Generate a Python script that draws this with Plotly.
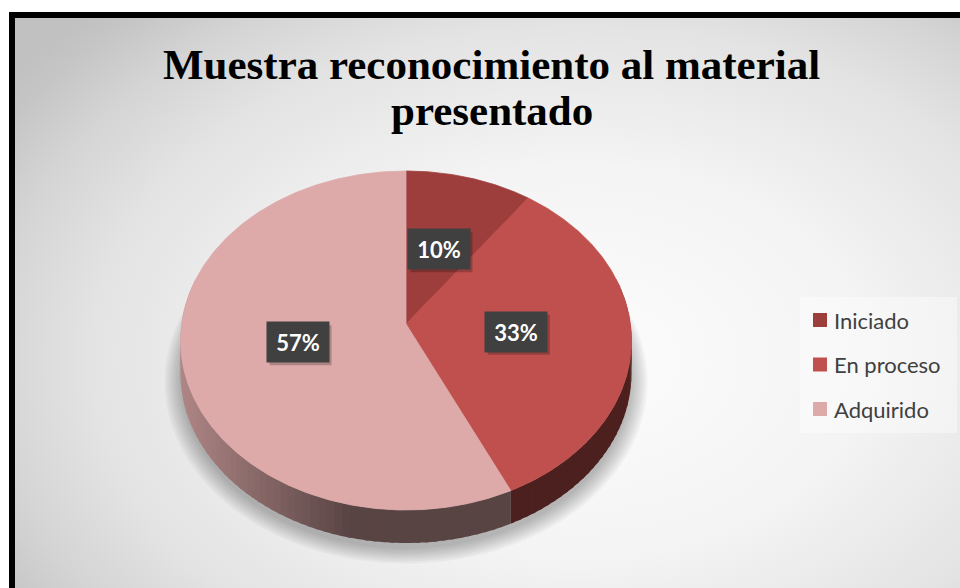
import numpy as np
import plotly.graph_objects as go

# ---------------- data ----------------
categories = ["Iniciado", "En proceso", "Adquirido"]
values = [10, 33, 57]
title_lines = ["Muestra reconocimiento al material", "presentado"]

# ---------------- style ----------------
SLICE_COLORS = ["#9e3e3c", "#c0504d", "#ddaaa9"]
W, H = 960, 588
CX, CY = 406.0, 324.0        # pie centre (pixels)
B, A, K = 224.4, 167.9, 0.0974  # perspective ellipse parameters
DEPTH = 33.0
LABEL_R = 0.49


def proj(phi_deg, f=1.0, dy=0.0):
    phi = np.radians(phi_deg)
    u = f * np.sin(phi)
    v = f * np.cos(phi)
    den = 1 + K * v
    return CX + B * u / den, CY - A * v / den + dy


def hex2rgb(h):
    h = h.lstrip("#")
    return tuple(int(h[i:i + 2], 16) for i in (0, 2, 4))


def shade_color(hexc, s):
    r, g, b = hex2rgb(hexc)
    return "rgb(%d,%d,%d)" % (int(r * s), int(g * s), int(b * s))


fig = go.Figure()

# background radial gradient
gx, gy, grx, gry = 580, 360, 700, 480
fig.add_trace(go.Scatter(
    x=[gx - grx, gx + grx, gx + grx, gx - grx, gx - grx],
    y=[gy - gry, gy - gry, gy + gry, gy + gry, gy - gry],
    mode="lines", line=dict(width=0), fill="toself",
    fillgradient=dict(type="radial", colorscale=[
        [0.0, "#fcfcfc"], [0.4, "#f4f4f4"], [0.7, "#e3e3e3"],
        [0.85, "#d4d4d4"], [0.95, "#c6c6c6"], [1.0, "#c1c1c1"]]),
    hoverinfo="skip", showlegend=False))

total = float(sum(values))
starts, ends = [], []
acc = 0.0
for v in values:
    starts.append(360.0 * acc / total)
    acc += v
    ends.append(360.0 * acc / total)

# soft shadow under the pie
full = np.linspace(0, 360, 181)
for i in range(8):
    f = 1.0 + 0.01 * i
    xs, ys = proj(full, f=f, dy=DEPTH + 6)
    fig.add_trace(go.Scatter(x=xs, y=ys, mode="lines", line=dict(width=0),
                             fill="toself", fillcolor="rgba(0,0,0,0.035)",
                             hoverinfo="skip", showlegend=False))

# sides of the pie (drawn as thin quads so they can be shaded)
STEP = 2.0
for c, a0, a1 in zip(SLICE_COLORS, starts, ends):
    phi = a0
    while phi < a1 - 1e-9:
        p2 = min(phi + STEP, a1)
        if np.cos(np.radians(phi)) < 0.25 or np.cos(np.radians(p2)) < 0.25:
            pe = min(p2 + 0.8, a1)
            seg = np.linspace(phi, pe, 4)
            xt, yt = proj(seg)
            xb, yb = proj(seg[::-1], dy=DEPTH)
            xm = float(np.mean(xt))
            t = min(max((xm - 185.0) / 165.0, 0.0), 1.0)
            s = 0.78 + (0.40 - 0.78) * t
            fig.add_trace(go.Scatter(
                x=np.concatenate([xt, xb, xt[:1]]),
                y=np.concatenate([yt, yb, yt[:1]]),
                mode="lines", line=dict(width=0), fill="toself",
                fillcolor=shade_color(c, s), hoverinfo="skip", showlegend=False))
        phi = p2

# top faces of the slices
for name, c, a0, a1 in zip(categories, SLICE_COLORS, starts, ends):
    arc = np.linspace(a0, a1, max(int((a1 - a0) * 2), 4))
    xa, ya = proj(arc)
    fig.add_trace(go.Scatter(
        x=np.concatenate([[CX], xa, [CX]]), y=np.concatenate([[CY], ya, [CY]]),
        mode="lines", line=dict(width=0.8, color=c), fill="toself", fillcolor=c,
        name=name, hoverinfo="skip", showlegend=False))

annotations = []
shapes = []
# data labels
for v, a0, a1 in zip(values, starts, ends):
    lx, ly = proj((a0 + a1) / 2.0, f=LABEL_R)
    txt = "%d%%" % round(100 * v / total)
    shapes.append(dict(type="rect", xref="x", yref="y", xsizemode="pixel", ysizemode="pixel",
                       xanchor=float(lx), yanchor=float(ly), x0=-31 + 3, x1=31 + 3,
                       y0=-20 - 3, y1=20 - 3, line=dict(width=0),
                       fillcolor="rgba(0,0,0,0.22)", layer="above"))
    annotations.append(dict(x=float(lx), y=float(ly), text="<b>%s</b>" % txt,
                            showarrow=False, width=62, height=40, bgcolor="#404040",
                            borderpad=0, font=dict(family="Lato", size=22, color="white")))

# title
annotations.append(dict(x=491, y=64, text="<b>%s</b>" % title_lines[0], showarrow=False,
                        font=dict(family="Liberation Serif", size=43, color="black")))
annotations.append(dict(x=492, y=110, text="<b>%s</b>" % title_lines[1], showarrow=False,
                        font=dict(family="Liberation Serif", size=43, color="black")))

# legend (manual)
fig.add_trace(go.Scatter(x=[800, 957, 957, 800, 800], y=[297, 297, 433, 433, 297],
                         mode="lines", line=dict(width=0), fill="toself",
                         fillcolor="rgba(255,255,255,0.4)", hoverinfo="skip",
                         showlegend=False))
LEG_X, LEG_Y0, LEG_STEP = 820, 320, 44.5
leg_y = [LEG_Y0 + i * LEG_STEP for i in range(len(categories))]
fig.add_trace(go.Scatter(x=[LEG_X] * len(categories), y=leg_y, mode="markers",
                         marker=dict(symbol="square", size=14, color=SLICE_COLORS,
                                     line=dict(width=0)),
                         hoverinfo="skip", showlegend=False))
for name, yy in zip(categories, leg_y):
    annotations.append(dict(x=832, y=yy, text=name, showarrow=False, xanchor="left",
                            font=dict(family="Lato", size=22, color="#404040")))

shapes += [
    dict(type="rect", x0=-20, x1=1000, y0=-20, y1=12, line=dict(width=0),
         fillcolor="white", layer="above"),
    dict(type="rect", x0=-20, x1=9, y0=-20, y1=620, line=dict(width=0),
         fillcolor="white", layer="above"),
    dict(type="rect", x0=12, x1=1010, y0=15, y1=640, line=dict(width=6, color="black"),
         fillcolor="rgba(0,0,0,0)", layer="above"),
]

fig.update_layout(
    width=W, height=H, autosize=False,
    margin=dict(l=0, r=0, t=0, b=0),
    paper_bgcolor="white", plot_bgcolor="white",
    xaxis=dict(range=[0, W], visible=False, fixedrange=True),
    yaxis=dict(range=[H, 0], visible=False, fixedrange=True),
    showlegend=False,
    hovermode=False,
    annotations=annotations,
    shapes=shapes,
)

fig.write_html("out.html", config={"displayModeBar": False, "staticPlot": True},
               post_script="document.body.style.margin='0';document.body.style.overflow='hidden';")
